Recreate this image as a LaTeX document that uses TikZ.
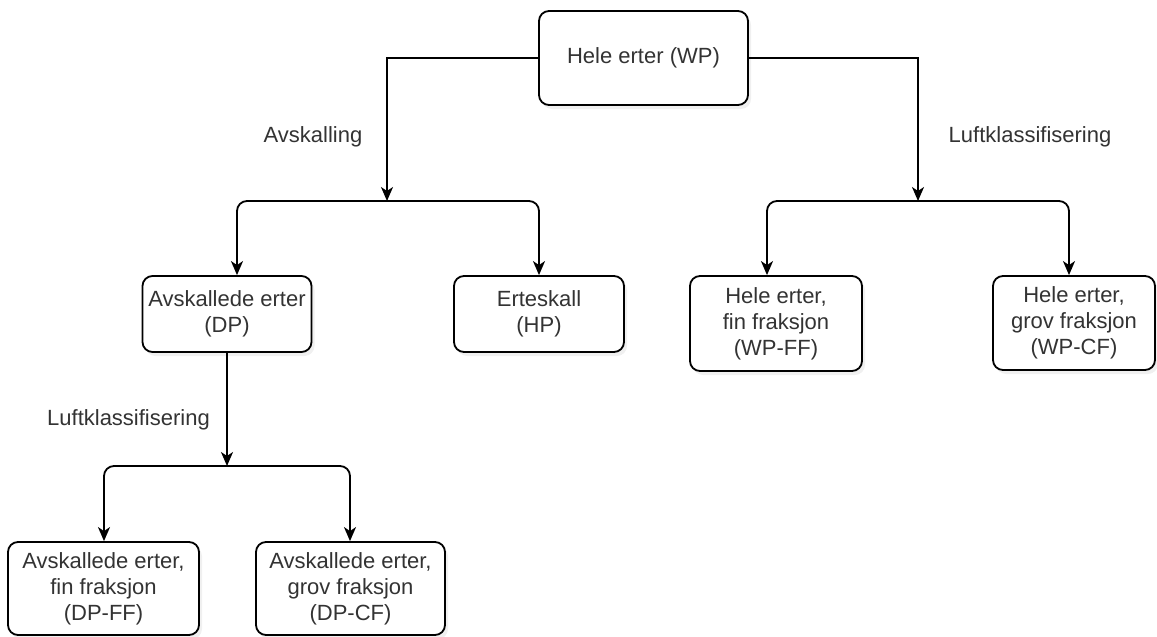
\documentclass[tikz,border=0pt]{standalone}
\usepackage{fontspec}
\setmainfont{Liberation Sans}
\usetikzlibrary{arrows.meta,shadows}
\definecolor{txt}{HTML}{333333}
\begin{document}
\begin{tikzpicture}[x=1pt,y=-1pt,
  box/.style={draw=black, line width=1.8pt, rounded corners=10pt, fill=white,
    align=center, text=txt, inner sep=0pt, font=\fontsize{22}{26}\selectfont,
    drop shadow={opacity=0.12, shadow xshift=3pt, shadow yshift=-4pt}},
  lbl/.style={text=txt, font=\fontsize{22}{26}\selectfont, inner sep=0pt},
  conn/.style={line width=1.8pt, rounded corners=10pt},
  arr/.style={conn, -{Stealth[length=14pt,width=12pt,inset=4pt]}}
]
\useasboundingbox (0,0) rectangle (1157,637);

% nodes
\node[box, minimum width=209pt, minimum height=94pt] (WP) at (643.5,58) {Hele erter (WP)};
\node[box, minimum width=169pt, minimum height=76pt] (DP) at (227,314) {Avskallede erter\\(DP)};
\node[box, minimum width=170pt, minimum height=76pt] (HP) at (539,314) {Erteskall\\(HP)};
\node[box, minimum width=172pt, minimum height=95pt] (WPFF) at (776,323.5) {Hele erter,\\fin fraksjon\\(WP-FF)};
\node[box, minimum width=162pt, minimum height=94pt] (WPCF) at (1074,323) {Hele erter,\\grov fraksjon\\(WP-CF)};
\node[box, minimum width=191pt, minimum height=93pt] (DPFF) at (103.5,588.5) {Avskallede erter,\\fin fraksjon\\(DP-FF)};
\node[box, minimum width=189pt, minimum height=93pt] (DPCF) at (350.5,588.5) {Avskallede erter,\\grov fraksjon\\(DP-CF)};

% labels
\node[lbl] (lA) at (313,137) {Avskalling};
\node[lbl] (lR) at (1030,137) {Luftklassifisering};
\node[lbl] (lL) at (128.5,420) {Luftklassifisering};

% junctions
\coordinate (j1) at (387,201);
\coordinate (j2) at (918,201);
\coordinate (j3) at (227,466);
\coordinate (c1) at (237,0);
\coordinate (c2) at (767,0);
\coordinate (c3) at (1069,0);
\coordinate (c4) at (104,0);
\coordinate (c5) at (350,0);

% connectors
\draw[arr, sharp corners] (WP.west) -| (j1);
\draw[arr] (j1) -| (DP.north -| c1);
\draw[arr] (j1) -| (HP.north);
\draw[arr, sharp corners] (WP.east) -| (j2);
\draw[arr] (j2) -| (WPFF.north -| c2);
\draw[arr] (j2) -| (WPCF.north -| c3);
\draw[arr] (DP.south) -- (j3);
\draw[arr] (j3) -| (DPFF.north -| c4);
\draw[arr] (j3) -| (DPCF.north -| c5);
\end{tikzpicture}
\end{document}
